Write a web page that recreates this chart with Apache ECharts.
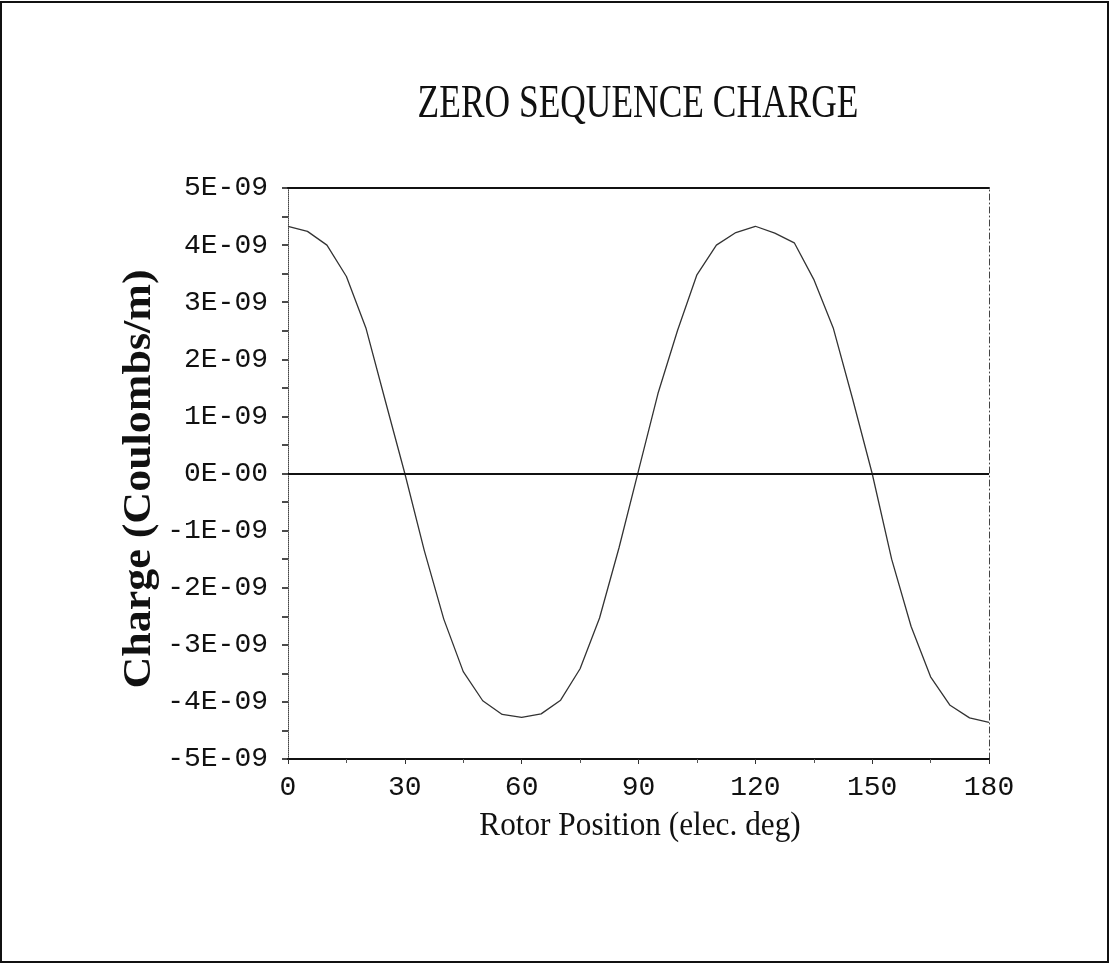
<!DOCTYPE html>
<html>
<head>
<meta charset="utf-8">
<script src="https://cdn.jsdelivr.net/npm/echarts@6/dist/echarts.min.js"></script>
<style>
  html, body { margin: 0; padding: 0; background: #fff; }
  #chart { width: 1110px; height: 965px; }
</style>
</head>
<body>
<div id="chart"></div>
<script>
// ---- data ----
const titleText = 'ZERO SEQUENCE CHARGE';
const xAxisTitle = 'Rotor Position (elec. deg)';
const yAxisTitle = 'Charge (Coulombs/m)';

// rotor position, electrical degrees
const rotorDeg = [0, 5, 10, 15, 20, 25, 30, 35, 40, 45, 50, 55, 60, 65, 70, 75, 80, 85, 90,
                  95, 100, 105, 110, 115, 120, 125, 130, 135, 140, 145, 150, 155, 160, 165, 170, 175, 180];
// zero sequence charge, in units of 1E-09 C/m
const chargeE9 = [4.33, 4.24, 4.00, 3.45, 2.55, 1.27, 0.00, -1.35, -2.55, -3.47, -3.98, -4.22, -4.27,
                  -4.21, -3.97, -3.42, -2.53, -1.30, 0.05, 1.40, 2.50, 3.48, 4.00, 4.22, 4.33,
                  4.21, 4.04, 3.40, 2.55, 1.30, 0.00, -1.50, -2.68, -3.56, -4.06, -4.28, -4.36];

const xTickValues = [0, 30, 60, 90, 120, 150, 180];
const yTickLabels = ['-5E-09', '-4E-09', '-3E-09', '-2E-09', '-1E-09', '0E-00',
                     '1E-09', '2E-09', '3E-09', '4E-09', '5E-09'];

const seriesData = rotorDeg.map((d, i) => [d, chargeE9[i] * 1e-9]);

const chart = echarts.init(document.getElementById('chart'), null, { renderer: 'canvas' });

const serif = '"Liberation Serif", "DejaVu Serif", serif';
const mono = '"Liberation Mono", "DejaVu Sans Mono", monospace';

chart.setOption({
  animation: false,
  backgroundColor: '#ffffff',
  grid: { left: 288, right: 121, top: 188, bottom: 206, containLabel: false },
  xAxis: [
    {
      type: 'value', position: 'bottom', min: 0, max: 180, interval: 30,
      axisLine: { onZero: false, lineStyle: { color: '#111', width: 2 } },
      axisTick: { show: true, inside: false, length: 5, lineStyle: { color: '#333', width: 1 } },
      minorTick: { show: true, splitNumber: 2, length: 4, lineStyle: { color: '#555', width: 1 } },
      splitLine: { show: false },
      axisLabel: {
        margin: 15, color: '#111', fontFamily: mono, fontSize: 28,
        formatter: v => (xTickValues.indexOf(v) >= 0 ? String(v) : '')
      }
    },
    {
      type: 'value', position: 'top', min: 0, max: 180,
      axisLine: { onZero: false, lineStyle: { color: '#111', width: 2 } },
      axisTick: { show: false }, axisLabel: { show: false }, splitLine: { show: false }
    }
  ],
  yAxis: [
    {
      type: 'value', position: 'left', min: -5e-9, max: 5e-9, interval: 1e-9,
      axisLine: { show: true, onZero: false, lineStyle: { color: '#444', width: 1, type: 'dotted' } },
      axisTick: { show: true, inside: false, length: 6, lineStyle: { color: '#111', width: 1.5 } },
      minorTick: { show: true, splitNumber: 2, length: 6, lineStyle: { color: '#111', width: 1.5 } },
      splitLine: { show: false },
      axisLabel: {
        margin: 20, color: '#111', fontFamily: mono, fontSize: 28,
        formatter: v => yTickLabels[Math.round(v / 1e-9) + 5] || ''
      }
    },
    {
      type: 'value', position: 'right', min: -5e-9, max: 5e-9,
      axisLine: { show: true, onZero: false, lineStyle: { color: '#444', width: 1, type: [6, 3, 1, 3] } },
      axisTick: { show: false }, axisLabel: { show: false }, splitLine: { show: false }
    }
  ],
  series: [
    {
      type: 'line',
      data: seriesData,
      showSymbol: false,
      lineStyle: { color: '#333', width: 1.3 },
      markLine: {
        silent: true, symbol: 'none', label: { show: false },
        lineStyle: { color: '#111', width: 2, type: 'solid' },
        data: [{ yAxis: 0 }]
      }
    }
  ],
  graphic: [
    {
      type: 'rect', silent: true,
      shape: { x: 1, y: 2, width: 1107, height: 960 },
      style: { fill: 'none', stroke: '#111', lineWidth: 2 }
    },
    {
      type: 'text', x: 638, y: 105, scaleX: 0.77, silent: true,
      style: {
        text: titleText, font: '46px ' + serif, fill: '#111',
        textAlign: 'center', textVerticalAlign: 'middle'
      }
    },
    {
      type: 'text', x: 640, y: 826, scaleX: 0.92, silent: true,
      style: {
        text: xAxisTitle, font: '34px ' + serif, fill: '#111',
        textAlign: 'center', textVerticalAlign: 'middle'
      }
    },
    {
      type: 'text', x: 140, y: 479, rotation: Math.PI / 2, scaleX: 1.1, silent: true,
      style: {
        text: yAxisTitle, font: 'bold 40px ' + serif, fill: '#111',
        textAlign: 'center', textVerticalAlign: 'middle'
      }
    }
  ]
});
</script>
</body>
</html>
